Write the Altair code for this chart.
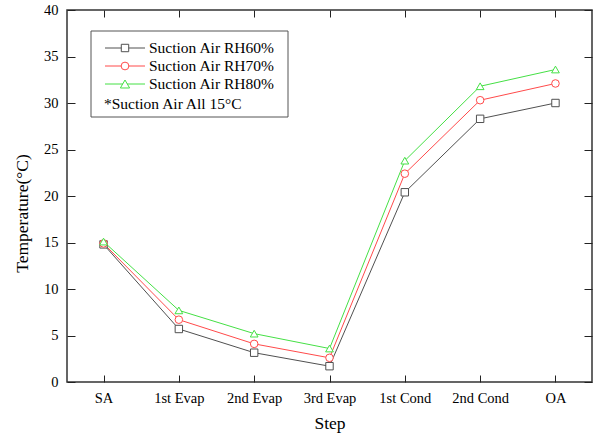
import altair as alt
import pandas as pd

steps = ["SA", "1st Evap", "2nd Evap", "3rd Evap", "1st Cond", "2nd Cond", "OA"]
series_names = ["Suction Air RH60%", "Suction Air RH70%", "Suction Air RH80%"]
rh60 = [14.8, 5.7, 3.15, 1.7, 20.4, 28.3, 30.0]
rh70 = [14.9, 6.7, 4.1, 2.6, 22.4, 30.3, 32.1]
rh80 = [15.1, 7.7, 5.2, 3.6, 23.8, 31.8, 33.6]
note_text = "*Suction Air All 15°C"

colors = ["#505050", "#ff4a4a", "#45e045"]
shapes = ["square", "circle", "triangle-up"]
sizes = [55, 60, 85]

rows = []
for name, vals in zip(series_names, [rh60, rh70, rh80]):
    for s, v in zip(steps, vals):
        rows.append({"Step": s, "Temp": v, "Series": name})
df = pd.DataFrame(rows)

FONT = "Liberation Serif"
W, H = 525, 372

xscale = alt.Scale(domain=steps, type="point", padding=0.485)
yscale = alt.Scale(domain=[0, 40], nice=False)
cscale = alt.Scale(domain=series_names, range=colors)
sscale = alt.Scale(domain=series_names, range=shapes)
zscale = alt.Scale(domain=series_names, range=sizes)

base = alt.Chart(df)

lines = base.mark_line(strokeWidth=1).encode(
    x=alt.X("Step:N", scale=xscale, sort=steps,
            axis=alt.Axis(orient="bottom", title="Step", offset=-7, tickSize=7,
                          domain=False, labelAngle=0, labelPadding=9,
                          labelFontSize=14.5, titleFontSize=17.5, titlePadding=10,
                          titleFontWeight="normal", tickColor="#222", grid=False)),
    y=alt.Y("Temp:Q", scale=yscale,
            axis=alt.Axis(orient="left", title="Temperature(°C)", offset=-8, tickSize=8,
                          domain=False, values=list(range(0, 45, 5)), labelPadding=9,
                          labelFontSize=14.5, titleFontSize=17.5, titlePadding=12,
                          titleFontWeight="normal", titleY=203, tickColor="#222",
                          grid=False)),
    color=alt.Color("Series:N", scale=cscale, legend=None),
    detail="Series:N",
)

points = base.mark_point(filled=False, fill="white", fillOpacity=1, strokeWidth=1).encode(
    x=alt.X("Step:N", scale=xscale, sort=steps),
    y=alt.Y("Temp:Q", scale=yscale),
    color=alt.Color("Series:N", scale=cscale, legend=None),
    shape=alt.Shape("Series:N", scale=sscale, legend=None),
    size=alt.Size("Series:N", scale=zscale, legend=None),
)

main = alt.layer(lines, points)

mirror = base.mark_point(opacity=0).encode(
    x=alt.X("Step:N", scale=xscale, sort=steps,
            axis=alt.Axis(orient="top", title=None, labels=False, offset=-7, tickSize=7,
                          domain=False, tickColor="#222", grid=False)),
    y=alt.Y("Temp:Q", scale=yscale,
            axis=alt.Axis(orient="right", title=None, labels=False, offset=-8, tickSize=8,
                          domain=False, values=list(range(0, 45, 5)), tickColor="#222",
                          grid=False)),
)

one = pd.DataFrame({"a": [0]})
leg_layers = []
box = alt.Chart(one).mark_rect(fill="white", stroke="#555", strokeWidth=1).encode(
    x=alt.value(24), x2=alt.value(221), y=alt.value(21), y2=alt.value(107))
leg_layers.append(box)
row_y = [38, 56, 74]
for i, name in enumerate(series_names):
    yy = row_y[i]
    leg_layers.append(alt.Chart(one).mark_rule(color=colors[i], strokeWidth=1).encode(
        x=alt.value(38), x2=alt.value(78), y=alt.value(yy)))
    leg_layers.append(alt.Chart(one).mark_point(filled=False, fill="white", fillOpacity=1,
                                                size=sizes[i], strokeWidth=1, color=colors[i],
                                                shape=shapes[i]).encode(
        x=alt.value(58), y=alt.value(yy)))
    leg_layers.append(alt.Chart(one).mark_text(align="left", baseline="middle", fontSize=15.5,
                                               font=FONT, color="black").encode(
        x=alt.value(82), y=alt.value(yy), text=alt.value(name)))
leg_layers.append(alt.Chart(one).mark_text(align="left", baseline="middle", fontSize=15.5,
                                           font=FONT, color="black").encode(
    x=alt.value(37), y=alt.value(94), text=alt.value(note_text)))

chart = alt.layer(main, mirror, *leg_layers).resolve_scale(
    x="shared", y="shared"
).resolve_axis(
    x="independent", y="independent"
).properties(
    width=W, height=H,
    autosize=alt.AutoSizeParams(type="none"),
    padding={"left": 67, "top": 10, "right": 5, "bottom": 57},
).configure(
    font=FONT,
    background="white",
).configure_view(
    stroke="#333", strokeWidth=1.5
).configure_axis(
    labelFont=FONT, titleFont=FONT, labelColor="black", titleColor="black",
)

chart.save("out.html", embed_options={"renderer": "svg", "actions": False})
